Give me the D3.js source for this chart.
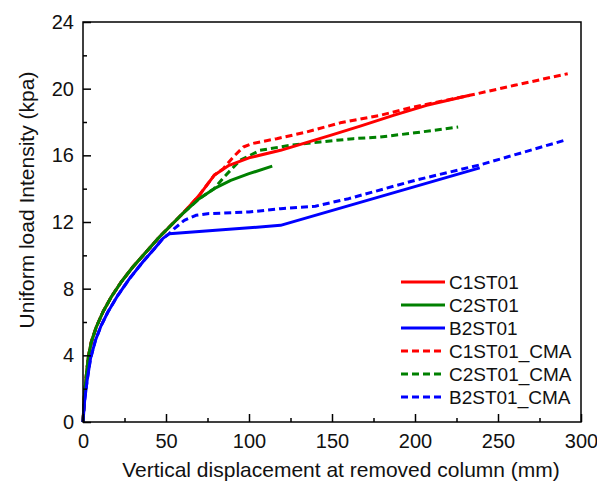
<!DOCTYPE html>
<html>
<head>
<meta charset="utf-8">
<script src="https://cdn.jsdelivr.net/npm/d3@7"></script>
<style>
  html, body { margin: 0; padding: 0; background: #fff; }
  svg { display: block; font-family: "Liberation Sans", Arial, sans-serif; }
</style>
</head>
<body>
<svg id="chart" width="597" height="483"></svg>
<script>
// ---- data ----
const seriesNames = ["C1ST01", "C2ST01", "B2ST01", "C1ST01_CMA", "C2ST01_CMA", "B2ST01_CMA"];
const seriesColors = ["#ff0000", "#008000", "#0000ff", "#ff0000", "#008000", "#0000ff"];
const seriesDashed = [false, false, false, true, true, true];

const c1_x = [0, 0.8, 2, 3.2, 5, 8, 12, 17, 23, 30, 38, 46, 52, 60, 70, 79, 88, 100, 119, 149, 167, 187, 207, 233];
const c1_y = [0, 1.5, 2.8, 3.9, 4.8, 5.7, 6.6, 7.5, 8.4, 9.3, 10.2, 11.1, 11.7, 12.5, 13.6, 14.8, 15.4, 15.85, 16.3, 17.2, 17.75, 18.4, 19.0, 19.6];

const c2_x = [0, 0.8, 2, 3.2, 5, 8, 12, 17, 23, 30, 38, 46, 52, 60, 70, 79, 89, 100, 114];
const c2_y = [0, 1.5, 2.8, 3.9, 4.8, 5.7, 6.6, 7.5, 8.4, 9.3, 10.2, 11.1, 11.7, 12.5, 13.4, 14.0, 14.5, 14.9, 15.35];

const b2_x = [0, 1, 2.5, 4.5, 7.5, 11, 15, 21, 28, 36, 43, 48, 52, 80, 119, 239];
const b2_y = [0, 1.3, 2.5, 3.8, 4.9, 5.8, 6.6, 7.6, 8.6, 9.6, 10.4, 11.0, 11.3, 11.5, 11.8, 15.25];

const c1cma_x = [0, 0.8, 2, 3.2, 5, 8, 12, 17, 23, 30, 38, 46, 52, 60, 70, 79, 84.5, 90.5, 96.6, 101.6, 116.7, 134.7, 155, 179, 199, 233, 260, 292];
const c1cma_y = [0, 1.5, 2.8, 3.9, 4.8, 5.7, 6.6, 7.5, 8.4, 9.3, 10.2, 11.1, 11.7, 12.5, 13.6, 14.8, 15.2, 15.9, 16.5, 16.7, 17.0, 17.4, 17.95, 18.4, 18.9, 19.6, 20.2, 20.9];

const c2cma_x = [0, 0.8, 2, 3.2, 5, 8, 12, 17, 23, 30, 38, 46, 52, 60, 70, 79, 85, 94.6, 106.6, 124.7, 142.8, 162.8, 179, 200, 226];
const c2cma_y = [0, 1.5, 2.8, 3.9, 4.8, 5.7, 6.6, 7.5, 8.4, 9.3, 10.2, 11.1, 11.7, 12.5, 13.4, 14.0, 14.7, 15.7, 16.3, 16.6, 16.8, 17.0, 17.1, 17.35, 17.7];

const b2cma_x = [0, 1, 2.5, 4.5, 7.5, 11, 15, 21, 28, 36, 43, 48, 52, 55, 61, 68, 75, 100, 119, 140, 160, 200, 240, 290];
const b2cma_y = [0, 1.3, 2.5, 3.8, 4.9, 5.8, 6.6, 7.6, 8.6, 9.6, 10.4, 11.0, 11.3, 11.6, 12.1, 12.4, 12.5, 12.6, 12.8, 12.95, 13.4, 14.5, 15.45, 16.9];

const xTicks = [0, 50, 100, 150, 200, 250, 300];
const yTicks = [0, 4, 8, 12, 16, 20, 24];
const xMinorTicks = [25, 75, 125, 175, 225, 275];
const yMinorTicks = [2, 6, 10, 14, 18, 22];
const xTitle = "Vertical displacement at removed column (mm)";
const yTitle = "Uniform load Intensity (kpa)";

const seriesX = [c1_x, c2_x, b2_x, c1cma_x, c2cma_x, b2cma_x];
const seriesY = [c1_y, c2_y, b2_y, c1cma_y, c2cma_y, b2cma_y];

// ---- layout ----
const L = 83, R = 581, T = 22, B = 422;
const svg = d3.select("#chart");
const x = d3.scaleLinear().domain([0, 300]).range([L, R]);
const y = d3.scaleLinear().domain([0, 24]).range([B, T]);

// series
const line = d3.line().x(d => x(d[0])).y(d => y(d[1])).curve(d3.curveLinear);
const order = [3, 4, 5, 0, 1, 2];
order.forEach(i => {
  const pts = seriesX[i].map((v, k) => [v, seriesY[i][k]]);
  svg.append("path")
    .attr("d", line(pts))
    .attr("fill", "none")
    .attr("stroke", seriesColors[i])
    .attr("stroke-width", 3)
    .attr("stroke-linejoin", "round")
    .attr("stroke-dasharray", seriesDashed[i] ? "7,4" : null);
});

// frame
svg.append("rect").attr("x", L).attr("y", T).attr("width", R - L).attr("height", B - T)
  .attr("fill", "none").attr("stroke", "#000").attr("stroke-width", 1.5);

// axes (ticks inward)
const xAxis = d3.axisBottom(x).tickValues(xTicks).tickSizeInner(-8).tickSizeOuter(0).tickPadding(12).tickFormat(d3.format("d"));
const gx = svg.append("g").attr("transform", `translate(0,${B})`).call(xAxis);
const xMinor = d3.axisBottom(x).tickValues(xMinorTicks).tickSizeInner(-4).tickSizeOuter(0).tickFormat("");
const gxm = svg.append("g").attr("transform", `translate(0,${B})`).call(xMinor);
const yAxis = d3.axisLeft(y).tickValues(yTicks).tickSizeInner(-8).tickSizeOuter(0).tickPadding(9).tickFormat(d3.format("d"));
const gy = svg.append("g").attr("transform", `translate(${L},0)`).call(yAxis);
const yMinor = d3.axisLeft(y).tickValues(yMinorTicks).tickSizeInner(-4).tickSizeOuter(0).tickFormat("");
const gym = svg.append("g").attr("transform", `translate(${L},0)`).call(yMinor);
[gx, gxm, gy, gym].forEach(g => {
  g.select(".domain").remove();
  g.selectAll(".tick line").attr("stroke", "#000").attr("stroke-width", 1.5);
  g.selectAll("text").attr("font-family", "Liberation Sans, Arial, sans-serif")
    .attr("font-size", 20).attr("fill", "#111");
});

// axis titles
svg.append("text").attr("x", (117 + 565) / 2).attr("y", 477)
  .attr("text-anchor", "middle").attr("font-size", 21).attr("fill", "#111").text(xTitle);
svg.append("text").attr("transform", "translate(34,200) rotate(-90)")
  .attr("text-anchor", "middle").attr("font-size", 21).attr("fill", "#111").text(yTitle);

// legend
const legY0 = 282, legDy = 23;
seriesNames.forEach((n, i) => {
  const yy = legY0 + i * legDy;
  svg.append("line").attr("x1", 401).attr("x2", 445).attr("y1", yy).attr("y2", yy)
    .attr("stroke", seriesColors[i]).attr("stroke-width", 3)
    .attr("stroke-dasharray", seriesDashed[i] ? "7,4" : null);
  svg.append("text").attr("x", 449).attr("y", yy).attr("dy", "0.35em")
    .attr("font-size", 19).attr("fill", "#111").text(n);
});
</script>
</body>
</html>
